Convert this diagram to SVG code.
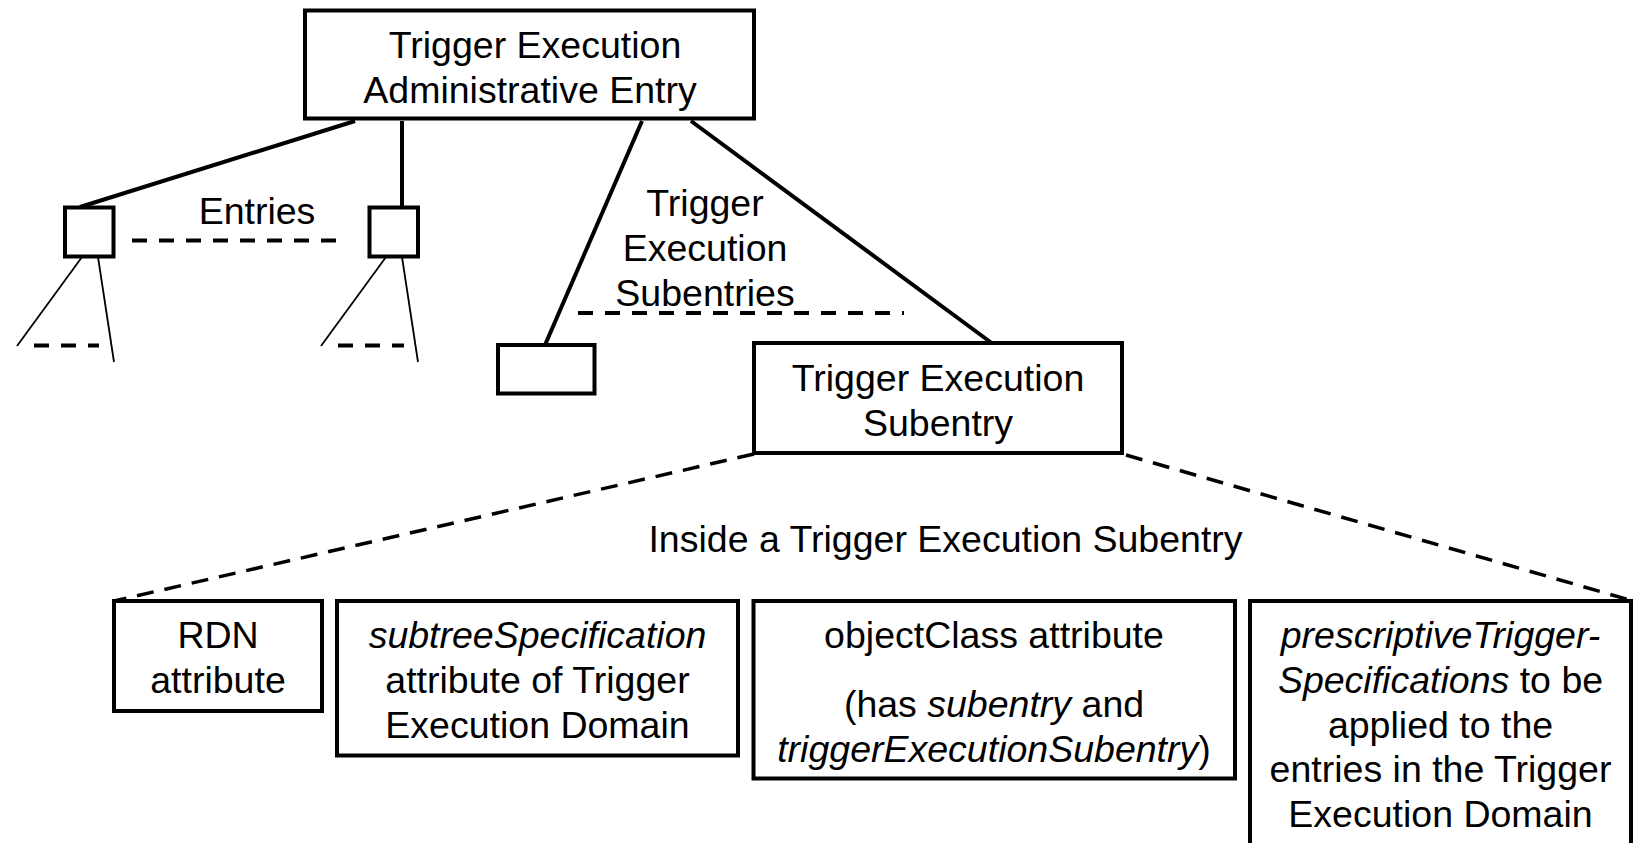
<svg xmlns="http://www.w3.org/2000/svg" width="1633" height="843" viewBox="0 0 1633 843">
  <style>
    text { font-family: "Liberation Sans", Arial, sans-serif; font-size: 37.5px; fill: #000; text-anchor: middle; }
    .it { font-style: italic; }
    .box { fill: #fff; stroke: #000; stroke-width: 4; }
    .solid { stroke: #000; stroke-width: 4; fill: none; }
    .thin { stroke: #000; stroke-width: 1.8; fill: none; }
    .dash { stroke: #000; stroke-width: 4; fill: none; stroke-dasharray: 15 12; }
    .dashd { stroke: #000; stroke-width: 3.5; fill: none; stroke-dasharray: 17 11; }
  </style>
  <rect width="1633" height="843" fill="#fff"/>

  <!-- connectors -->
  <g id="connectors">
    <line class="solid" x1="355" y1="121" x2="80" y2="207"/>
    <line class="solid" x1="402" y1="121" x2="402" y2="207"/>
    <line class="solid" x1="642" y1="121" x2="545" y2="345"/>
    <line class="solid" x1="691" y1="121" x2="993" y2="344"/>
    <line class="dash" x1="130" y1="240.5" x2="346" y2="240.5" stroke-dasharray="15 12" stroke-dashoffset="-2"/>
    <line class="dash" x1="578" y1="313" x2="904" y2="313"/>
    <line class="thin" x1="82" y1="257" x2="17" y2="346"/>
    <line class="thin" x1="98" y1="257" x2="114" y2="362"/>
    <line class="dash" x1="34" y1="345.5" x2="99" y2="345.5" stroke-dasharray="18 8"/>
    <line class="thin" x1="386" y1="257" x2="321" y2="346"/>
    <line class="thin" x1="402" y1="257" x2="418" y2="362"/>
    <line class="dash" x1="338" y1="345.5" x2="404" y2="345.5" stroke-dasharray="18 8"/>
    <line class="dashd" x1="754" y1="454" x2="114" y2="601"/>
    <line class="dashd" x1="1126" y1="455" x2="1633" y2="601"/>
  </g>

  <g id="admin-entry">
    <rect class="box" x="305" y="10.5" width="449" height="108"/>
    <text x="535" y="58">Trigger Execution</text>
    <text x="530" y="103">Administrative Entry</text>
  </g>

  <g id="entry-left">
    <rect class="box" x="65" y="207.5" width="48.5" height="49"/>
  </g>
  <g id="entry-right">
    <rect class="box" x="369.5" y="207.5" width="48.5" height="49"/>
  </g>
  <g id="entries-label">
    <text x="257" y="224">Entries</text>
  </g>

  <g id="subentries-label">
    <text x="705" y="216">Trigger</text>
    <text x="705" y="261">Execution</text>
    <text x="705" y="306">Subentries</text>
  </g>

  <g id="subentry-small">
    <rect class="box" x="498" y="345" width="96.5" height="48.5"/>
  </g>

  <g id="subentry">
    <rect class="box" x="754" y="343" width="368" height="110"/>
    <text x="938" y="391">Trigger Execution</text>
    <text x="938" y="435.5">Subentry</text>
  </g>

  <g id="inside-label">
    <text x="945.5" y="552">Inside a Trigger Execution Subentry</text>
  </g>

  <g id="rdn">
    <rect class="box" x="114" y="601" width="208" height="110"/>
    <text x="218" y="648">RDN</text>
    <text x="218" y="693">attribute</text>
  </g>

  <g id="subtree-spec">
    <rect class="box" x="337" y="601" width="401" height="154.5"/>
    <text x="537.5" y="648" class="it">subtreeSpecification</text>
    <text x="537.5" y="693">attribute of Trigger</text>
    <text x="537.5" y="737.5">Execution Domain</text>
  </g>

  <g id="object-class">
    <rect class="box" x="753.5" y="601" width="481.5" height="177.5"/>
    <text x="994" y="648">objectClass attribute</text>
    <text x="994" y="716.5">(has <tspan class="it">subentry</tspan> and</text>
    <text x="994" y="761.5"><tspan class="it">triggerExecutionSubentry</tspan>)</text>
  </g>

  <g id="prescriptive">
    <rect class="box" x="1250" y="601" width="381" height="260"/>
    <text x="1440.5" y="648" class="it">prescriptiveTrigger-</text>
    <text x="1440.5" y="692.8"><tspan class="it">Specifications</tspan> to be</text>
    <text x="1440.5" y="737.6">applied to the</text>
    <text x="1440.5" y="782.4">entries in the Trigger</text>
    <text x="1440.5" y="827.2">Execution Domain</text>
  </g>
</svg>
